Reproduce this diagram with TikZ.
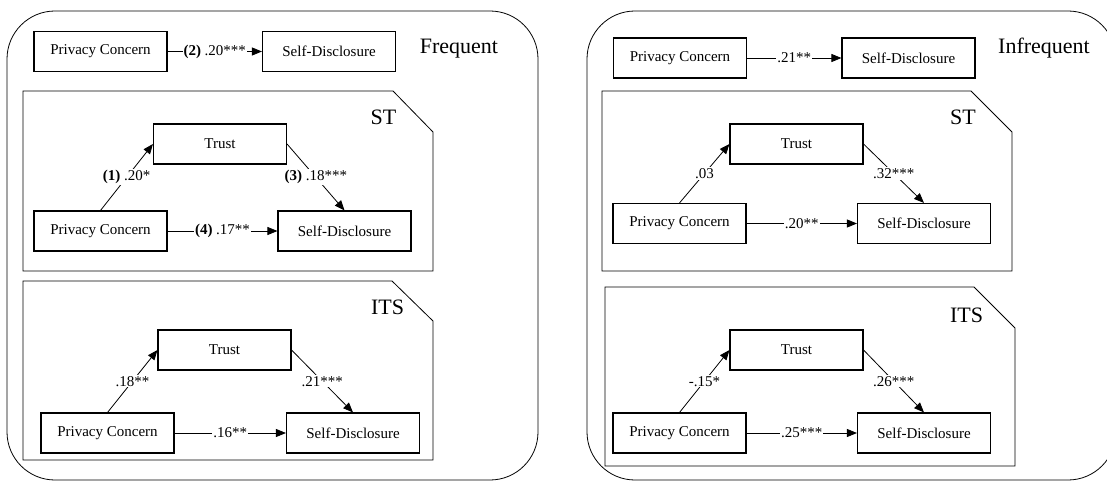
\documentclass[tikz,border=0pt]{standalone}
\usepackage{fontspec}
\setmainfont{Liberation Serif}
\usetikzlibrary{arrows.meta}

\tikzset{
  var/.style={draw, line width=1.1pt, minimum width=133pt, minimum height=40pt, inner sep=0pt, font=\fontsize{15}{18}\selectfont},
  link/.style={line width=0.8pt, -{Triangle[length=10pt,width=8pt]}},
  coef/.style={fill=white, inner sep=1pt, font=\fontsize{15}{18}\selectfont},
  group/.style={line width=0.8pt},
  title/.style={anchor=base, inner sep=0pt, font=\fontsize{22}{26}\selectfont}
}

\begin{document}
\begin{tikzpicture}[x=1pt, y=-1pt]
\useasboundingbox (0,0) rectangle (1107,481);
\clip (0,0) rectangle (1107,481);

% frequent users
\draw[group, rounded corners=48pt] (7,11) rectangle (538,480);
\node[var] (fpc) at (100.5,51.5) {Privacy Concern};
\node[var] (fsd) at (329,51.5) {Self-Disclosure};
\node[title] (ftitle) at (459,54) {Frequent};
\draw[link] (fpc) -- node[coef] {\textbf{(2)} .20***} (fsd);

\draw[group] (23,91) -- (393,91) -- (433,132) -- (433,271) -- (23,271) -- cycle;
\node[title] (fst) at (383.5,125) {ST};
\node[var] (fsttrust) at (220,144) {Trust};
\node[var] (fstpc) at (100.5,231) {Privacy Concern};
\node[var] (fstsd) at (344.5,231) {Self-Disclosure};
\draw[link] (fstpc.north) -- node[coef] {\textbf{(1)} .20*} (fsttrust.west);
\draw[link] (fsttrust.east) -- node[coef] {\textbf{(3)} .18***} (fstsd.north);
\draw[link] (fstpc) -- node[coef] {\textbf{(4)} .17**} (fstsd);

\draw[group] (23,281) -- (392,281) -- (433,321) -- (433,460) -- (23,460) -- cycle;
\node[title] (fits) at (387.5,314) {ITS};
\node[var] (fitstrust) at (224.5,350) {Trust};
\node[var] (fitspc) at (107.5,433) {Privacy Concern};
\node[var] (fitssd) at (353,433) {Self-Disclosure};
\draw[link] (fitspc.north) -- node[coef] {.18**} (fitstrust.west);
\draw[link] (fitstrust.east) -- node[coef] {.21***} (fitssd.north);
\draw[link] (fitspc) -- node[coef] {.16**} (fitssd);

% infrequent users
\draw[group, rounded corners=48pt] (587,11) rectangle (1116,480);
\node[var] (ipc) at (680,58) {Privacy Concern};
\node[var] (isd) at (908.5,58) {Self-Disclosure};
\node[title] (ititle) at (1044,54) {Infrequent};
\draw[link] (ipc) -- node[coef] {.21**} (isd);

\draw[group] (602,91) -- (971,91) -- (1012,132) -- (1012,271) -- (602,271) -- cycle;
\node[title] (ist) at (963,125) {ST};
\node[var] (isttrust) at (796.5,144) {Trust};
\node[var] (istpc) at (679.5,223.5) {Privacy Concern};
\node[var] (istsd) at (924,223.5) {Self-Disclosure};
\draw[link] (istpc.north) -- node[coef] {.03} (isttrust.west);
\draw[link] (isttrust.east) -- node[coef] {.32***} (istsd.north);
\draw[link] (istpc) -- node[coef] {.20**} (istsd);

\draw[group] (605,287) -- (974,287) -- (1015,328) -- (1015,466) -- (605,466) -- cycle;
\node[title] (iits) at (966.5,322) {ITS};
\node[var] (iitstrust) at (796.5,350) {Trust};
\node[var] (iitspc) at (679.5,433) {Privacy Concern};
\node[var] (iitssd) at (924,433) {Self-Disclosure};
\draw[link] (iitspc.north) -- node[coef] {-.15*} (iitstrust.west);
\draw[link] (iitstrust.east) -- node[coef] {.26***} (iitssd.north);
\draw[link] (iitspc) -- node[coef] {.25***} (iitssd);

\end{tikzpicture}
\end{document}
